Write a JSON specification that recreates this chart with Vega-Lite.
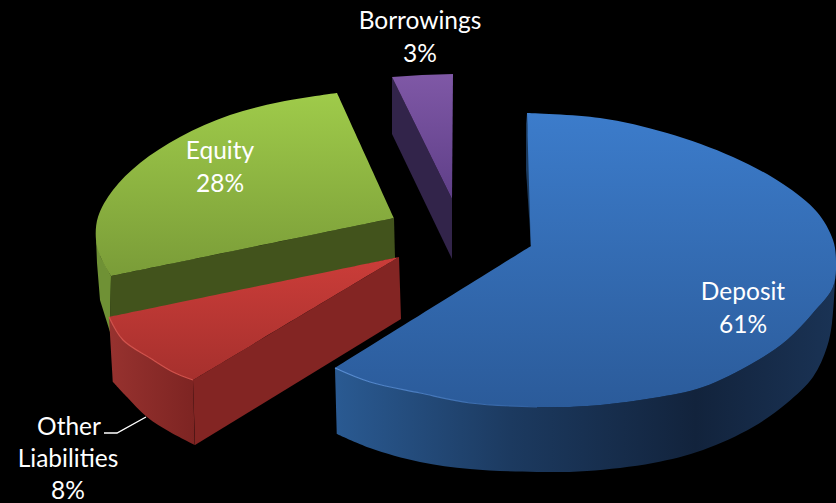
{
"$schema":"https://vega.github.io/schema/vega-lite/v6.json",
"width":836,"height":503,"padding":0,"autosize":{"type":"none"},
"background":"#000000",
"config":{"view":{"stroke":null}},
"datasets":{
"outline":[
{"part":"purpleSide","seq":1,"x":392,"y":77},{"part":"purpleSide","seq":2,"x":392,"y":134},{"part":"purpleSide","seq":3,"x":452,"y":259},{"part":"purpleSide","seq":4,"x":452,"y":199},
{"part":"purpleTop","seq":1,"x":392,"y":77},{"part":"purpleTop","seq":2,"x":422,"y":75},{"part":"purpleTop","seq":3,"x":453,"y":74},{"part":"purpleTop","seq":4,"x":452,"y":199},
{"part":"greenOuter","seq":1,"x":96,"y":238},{"part":"greenOuter","seq":2,"x":97,"y":263},{"part":"greenOuter","seq":3,"x":100,"y":300},{"part":"greenOuter","seq":4,"x":110,"y":332},{"part":"greenOuter","seq":5,"x":111,"y":276},{"part":"greenOuter","seq":6,"x":101,"y":258},
{"part":"greenCut","seq":1,"x":111,"y":276},{"part":"greenCut","seq":2,"x":394,"y":218},{"part":"greenCut","seq":3,"x":395,"y":258},{"part":"greenCut","seq":4,"x":110,"y":320},
{"part":"greenTop","seq":1,"x":337,"y":93},{"part":"greenTop","seq":2,"x":337,"y":93},{"part":"greenTop","seq":3,"x":280,"y":102},{"part":"greenTop","seq":4,"x":230,"y":115},{"part":"greenTop","seq":5,"x":180,"y":137},{"part":"greenTop","seq":6,"x":140,"y":163},{"part":"greenTop","seq":7,"x":113,"y":190},{"part":"greenTop","seq":8,"x":98,"y":217},{"part":"greenTop","seq":9,"x":96,"y":240},{"part":"greenTop","seq":10,"x":101,"y":258},{"part":"greenTop","seq":11,"x":111,"y":276},{"part":"greenTop","seq":12,"x":111,"y":276},{"part":"greenTop","seq":13,"x":394,"y":218},{"part":"greenTop","seq":14,"x":394,"y":218},{"part":"greenTop","seq":15,"x":337,"y":93},{"part":"greenTop","seq":16,"x":337,"y":93},
{"part":"redOuter","seq":1,"x":109,"y":317},{"part":"redOuter","seq":2,"x":109,"y":317},{"part":"redOuter","seq":3,"x":113,"y":382},{"part":"redOuter","seq":4,"x":113,"y":382},{"part":"redOuter","seq":5,"x":127,"y":397},{"part":"redOuter","seq":6,"x":147,"y":417},{"part":"redOuter","seq":7,"x":170,"y":432},{"part":"redOuter","seq":8,"x":195,"y":445},{"part":"redOuter","seq":9,"x":195,"y":445},{"part":"redOuter","seq":10,"x":193,"y":380},{"part":"redOuter","seq":11,"x":193,"y":380},{"part":"redOuter","seq":12,"x":173,"y":372},{"part":"redOuter","seq":13,"x":150,"y":358},{"part":"redOuter","seq":14,"x":123,"y":340},{"part":"redOuter","seq":15,"x":109,"y":317},{"part":"redOuter","seq":16,"x":109,"y":317},
{"part":"redCut","seq":1,"x":399,"y":257},{"part":"redCut","seq":2,"x":401,"y":319},{"part":"redCut","seq":3,"x":195,"y":445},{"part":"redCut","seq":4,"x":193,"y":380},
{"part":"redTop","seq":1,"x":109,"y":317},{"part":"redTop","seq":2,"x":109,"y":317},{"part":"redTop","seq":3,"x":399,"y":257},{"part":"redTop","seq":4,"x":399,"y":257},{"part":"redTop","seq":5,"x":193,"y":380},{"part":"redTop","seq":6,"x":193,"y":380},{"part":"redTop","seq":7,"x":173,"y":372},{"part":"redTop","seq":8,"x":150,"y":358},{"part":"redTop","seq":9,"x":123,"y":340},{"part":"redTop","seq":10,"x":109,"y":317},{"part":"redTop","seq":11,"x":109,"y":317},
{"part":"blueInner","seq":1,"x":526,"y":113},{"part":"blueInner","seq":2,"x":526,"y":170},{"part":"blueInner","seq":3,"x":531,"y":246},{"part":"blueInner","seq":4,"x":534,"y":200},
{"part":"blueSide","seq":1,"x":335,"y":368},{"part":"blueSide","seq":2,"x":335,"y":368},{"part":"blueSide","seq":3,"x":337,"y":434},{"part":"blueSide","seq":4,"x":337,"y":434},{"part":"blueSide","seq":5,"x":370,"y":448},{"part":"blueSide","seq":6,"x":420,"y":462},{"part":"blueSide","seq":7,"x":470,"y":469},{"part":"blueSide","seq":8,"x":537,"y":472},{"part":"blueSide","seq":9,"x":587,"y":471},{"part":"blueSide","seq":10,"x":653,"y":463},{"part":"blueSide","seq":11,"x":703,"y":450},{"part":"blueSide","seq":12,"x":753,"y":427},{"part":"blueSide","seq":13,"x":787,"y":403},{"part":"blueSide","seq":14,"x":813,"y":377},{"part":"blueSide","seq":15,"x":827,"y":347},{"part":"blueSide","seq":16,"x":832,"y":323},{"part":"blueSide","seq":17,"x":836,"y":262},{"part":"blueSide","seq":18,"x":836,"y":262},{"part":"blueSide","seq":19,"x":833,"y":287},{"part":"blueSide","seq":20,"x":813,"y":313},{"part":"blueSide","seq":21,"x":787,"y":340},{"part":"blueSide","seq":22,"x":753,"y":363},{"part":"blueSide","seq":23,"x":703,"y":387},{"part":"blueSide","seq":24,"x":653,"y":398},{"part":"blueSide","seq":25,"x":587,"y":406},{"part":"blueSide","seq":26,"x":537,"y":407},{"part":"blueSide","seq":27,"x":470,"y":403},{"part":"blueSide","seq":28,"x":420,"y":393},{"part":"blueSide","seq":29,"x":370,"y":382},{"part":"blueSide","seq":30,"x":335,"y":368},{"part":"blueSide","seq":31,"x":335,"y":368},
{"part":"blueTop","seq":1,"x":527,"y":113},{"part":"blueTop","seq":2,"x":527,"y":113},{"part":"blueTop","seq":3,"x":600,"y":118},{"part":"blueTop","seq":4,"x":667,"y":133},{"part":"blueTop","seq":5,"x":733,"y":157},{"part":"blueTop","seq":6,"x":783,"y":184},{"part":"blueTop","seq":7,"x":817,"y":212},{"part":"blueTop","seq":8,"x":833,"y":240},{"part":"blueTop","seq":9,"x":836,"y":262},{"part":"blueTop","seq":10,"x":833,"y":287},{"part":"blueTop","seq":11,"x":813,"y":313},{"part":"blueTop","seq":12,"x":787,"y":340},{"part":"blueTop","seq":13,"x":753,"y":363},{"part":"blueTop","seq":14,"x":703,"y":387},{"part":"blueTop","seq":15,"x":653,"y":398},{"part":"blueTop","seq":16,"x":587,"y":406},{"part":"blueTop","seq":17,"x":537,"y":407},{"part":"blueTop","seq":18,"x":470,"y":403},{"part":"blueTop","seq":19,"x":420,"y":393},{"part":"blueTop","seq":20,"x":370,"y":382},{"part":"blueTop","seq":21,"x":335,"y":368},{"part":"blueTop","seq":22,"x":335,"y":368},{"part":"blueTop","seq":23,"x":531,"y":246},{"part":"blueTop","seq":24,"x":531,"y":246},{"part":"blueTop","seq":25,"x":527,"y":113},{"part":"blueTop","seq":26,"x":527,"y":113},
{"part":"blueRim","seq":1,"x":335,"y":368},{"part":"blueRim","seq":2,"x":370,"y":382},{"part":"blueRim","seq":3,"x":420,"y":393},{"part":"blueRim","seq":4,"x":470,"y":403},{"part":"blueRim","seq":5,"x":537,"y":407},
{"part":"redRim","seq":1,"x":109,"y":317},{"part":"redRim","seq":2,"x":123,"y":340},{"part":"redRim","seq":3,"x":150,"y":358},{"part":"redRim","seq":4,"x":173,"y":372},{"part":"redRim","seq":5,"x":193,"y":380},
{"part":"leader","seq":1,"x":104,"y":433},{"part":"leader","seq":2,"x":117,"y":433},{"part":"leader","seq":3,"x":146,"y":417}
],
"captions":[
{"label":"Borrowings","x":420,"y":22},{"label":"3%","x":420,"y":55},
{"label":"Equity","x":220,"y":152},{"label":"28%","x":220,"y":185},
{"label":"Deposit","x":743,"y":293},{"label":"61%","x":743,"y":326},
{"label":"Other","x":69,"y":428},{"label":"Liabilities","x":68,"y":460},{"label":"8%","x":68,"y":492}
]
},
"data":{"name":"outline"},
"encoding":{
"x":{"field":"x","type":"quantitative","axis":null,"scale":{"domain":[0,836],"nice":false,"zero":false}},
"y":{"field":"y","type":"quantitative","axis":null,"scale":{"domain":[503,0],"nice":false,"zero":false}},
"order":{"field":"seq","type":"quantitative"}
},
"layer":[
{"transform":[{"filter":"datum.part==='purpleSide'"}],"mark":{"type":"line","fill":"#32244a","stroke":null}},
{"transform":[{"filter":"datum.part==='purpleTop'"}],"mark":{"type":"line","stroke":null,"fill":{"gradient":"linear","x1":0,"y1":0,"x2":0,"y2":1,"stops":[{"offset":0,"color":"#7f58a6"},{"offset":1,"color":"#5f3f88"}]}}},
{"transform":[{"filter":"datum.part==='greenOuter'"}],"mark":{"type":"line","fill":"#6f9135","stroke":null}},
{"transform":[{"filter":"datum.part==='greenCut'"}],"mark":{"type":"line","fill":"#42531c","stroke":null}},
{"transform":[{"filter":"datum.part==='greenTop'"}],"mark":{"type":"line","interpolate":"catmull-rom","stroke":null,"fill":{"gradient":"linear","x1":0,"y1":0,"x2":0,"y2":1,"stops":[{"offset":0,"color":"#9fcb4a"},{"offset":1,"color":"#7a9c38"}]}}},
{"transform":[{"filter":"datum.part==='redOuter'"}],"mark":{"type":"line","interpolate":"catmull-rom","stroke":null,"fill":{"gradient":"linear","x1":0,"y1":0,"x2":1,"y2":0,"stops":[{"offset":0,"color":"#97322f"},{"offset":1,"color":"#7d2422"}]}}},
{"transform":[{"filter":"datum.part==='redCut'"}],"mark":{"type":"line","fill":"#832523","stroke":null}},
{"transform":[{"filter":"datum.part==='redTop'"}],"mark":{"type":"line","interpolate":"catmull-rom","stroke":null,"fill":{"gradient":"linear","x1":0,"y1":0,"x2":0,"y2":1,"stops":[{"offset":0,"color":"#cb3d39"},{"offset":1,"color":"#a6302d"}]}}},
{"transform":[{"filter":"datum.part==='blueInner'"}],"mark":{"type":"line","fill":"#1b3a5e","stroke":null}},
{"transform":[{"filter":"datum.part==='blueSide'"}],"mark":{"type":"line","interpolate":"catmull-rom","stroke":null,"fill":{"gradient":"linear","x1":0,"y1":0,"x2":1,"y2":0,"stops":[{"offset":0,"color":"#2a5a92"},{"offset":0.35,"color":"#1c3a60"},{"offset":0.72,"color":"#12233c"},{"offset":1,"color":"#1a3355"}]}}},
{"transform":[{"filter":"datum.part==='blueTop'"}],"mark":{"type":"line","interpolate":"catmull-rom","stroke":null,"fill":{"gradient":"linear","x1":0,"y1":0,"x2":0,"y2":1,"stops":[{"offset":0,"color":"#3c7ccb"},{"offset":1,"color":"#2b5b9a"}]}}},
{"transform":[{"filter":"datum.part==='blueRim'"}],"mark":{"type":"line","interpolate":"catmull-rom","strokeWidth":1.2,"stroke":{"gradient":"linear","x1":0,"y1":0,"x2":1,"y2":0,"stops":[{"offset":0,"color":"#5b90d6"},{"offset":1,"color":"#2f5f9f"}]}}},
{"transform":[{"filter":"datum.part==='redRim'"}],"mark":{"type":"line","interpolate":"catmull-rom","stroke":"#d2534d","strokeWidth":1.2}},
{"transform":[{"filter":"datum.part==='leader'"}],"mark":{"type":"line","stroke":"#ffffff","strokeWidth":1.4}},
{"data":{"name":"captions"},"mark":{"type":"text","font":"Lato","fontSize":24.5,"color":"#ffffff","align":"center","baseline":"middle"},"encoding":{"text":{"field":"label","type":"nominal"},"order":null}}
]
}
